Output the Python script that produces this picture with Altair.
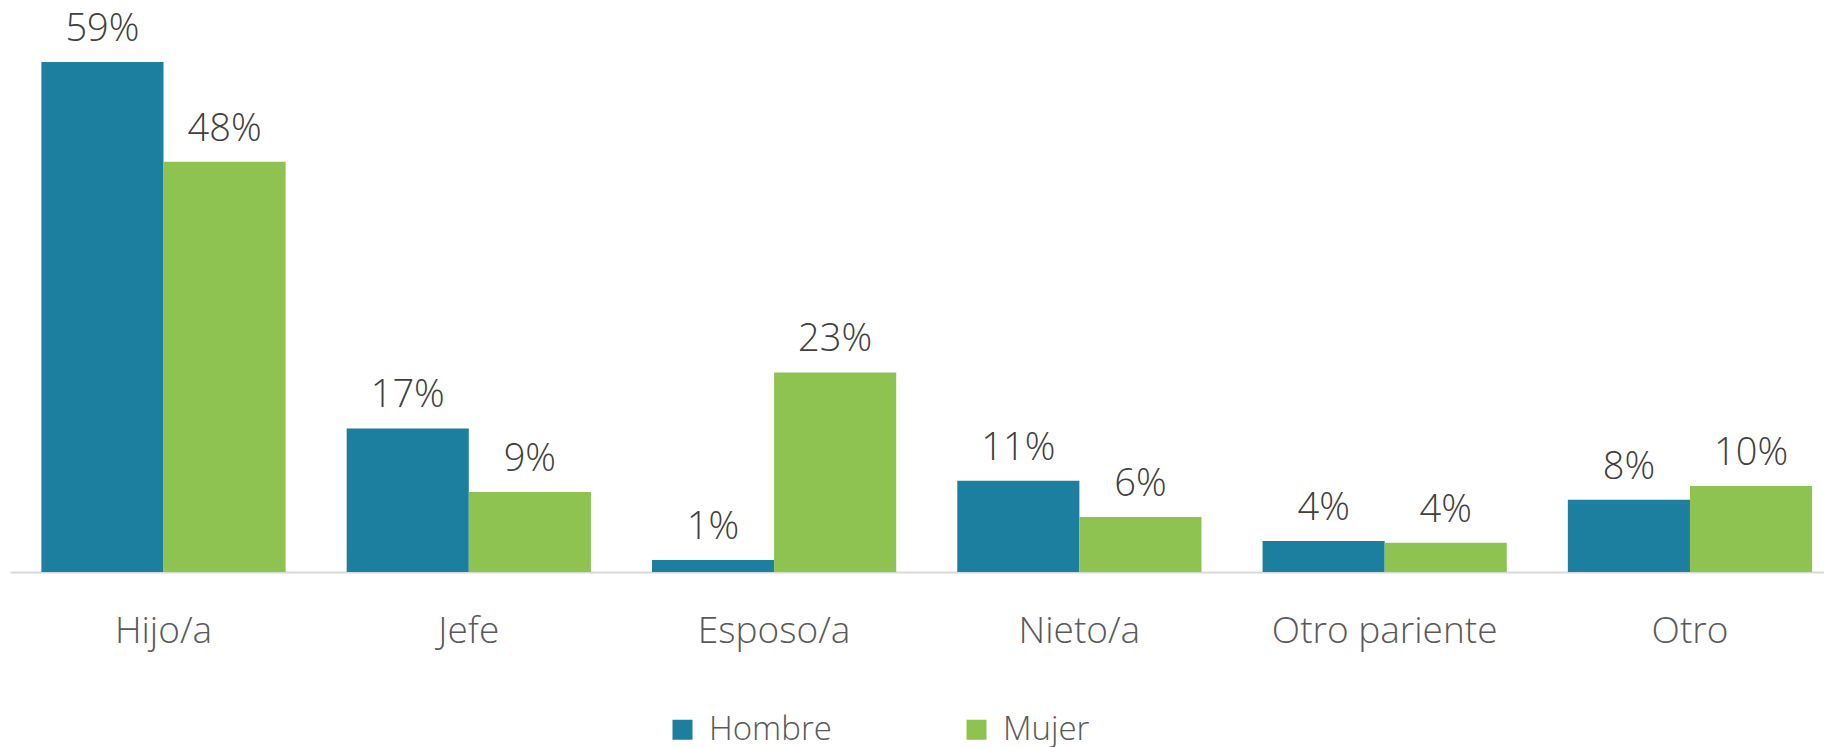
import altair as alt
import pandas as pd

categorias = ["Hijo/a", "Jefe", "Esposo/a", "Nieto/a", "Otro pariente", "Otro"]
hombre = [59.3, 16.7, 1.4, 10.6, 3.6, 8.4]
mujer = [47.7, 9.3, 23.2, 6.4, 3.4, 10.0]
etiquetas_hombre = ["59%", "17%", "1%", "11%", "4%", "8%"]
etiquetas_mujer = ["48%", "9%", "23%", "6%", "4%", "10%"]
sexos = ["Hombre", "Mujer"]
colores = ["#1D7F9F", "#8EC352"]

rows = []
for i, c in enumerate(categorias):
    rows.append(dict(cat=c, sexo="Hombre", valor=hombre[i], etq=etiquetas_hombre[i]))
    rows.append(dict(cat=c, sexo="Mujer", valor=mujer[i], etq=etiquetas_mujer[i]))
df = pd.DataFrame(rows)

FONT = "Open Sans"

x = alt.X(
    "cat:N", sort=categorias, title=None,
    scale=alt.Scale(paddingInner=0.2, paddingOuter=0.0709, align=0.725),
    axis=alt.Axis(labelAngle=0, ticks=False, tickSize=0, labelPadding=70,
                  labelBaseline="alphabetic", labelFontSize=37, labelFont=FONT,
                  labelFontWeight=300, labelColor="#595959", labelLimit=0,
                  domainColor="#D9D9D9", domainWidth=2, grid=False),
)
xo = alt.XOffset("sexo:N", sort=sexos, scale=alt.Scale(paddingInner=0, paddingOuter=0))
y = alt.Y("valor:Q", scale=alt.Scale(domain=[0, 65], nice=False), axis=None)
color = alt.Color(
    "sexo:N", sort=sexos, scale=alt.Scale(domain=sexos, range=colores),
    legend=alt.Legend(title=None, orient="none", legendX=656, legendY=700,
                      direction="horizontal", symbolType="square", symbolSize=400,
                      symbolStrokeWidth=0, labelFontSize=33, labelFont=FONT,
                      labelFontWeight=300, labelColor="#595959", labelOffset=10,
                      columnPadding=128, padding=0, labelLimit=0),
)

bars = alt.Chart(df).mark_bar(strokeWidth=0).encode(x=x, xOffset=xo, y=y, color=color)
text = alt.Chart(df).mark_text(
    baseline="alphabetic", dy=-21, fontSize=38, font=FONT, fontWeight=300, color="#404040"
).encode(x=x, xOffset=xo, y=y, text="etq:N")

chart = (bars + text).properties(
    width=1814, height=559,
    padding={"left": 2, "top": 5, "right": 0, "bottom": 176},
    autosize=alt.AutoSizeParams(type="none"),
).configure_view(stroke=None)

chart.save("out.html", embed_options={"renderer": "svg", "actions": False})
